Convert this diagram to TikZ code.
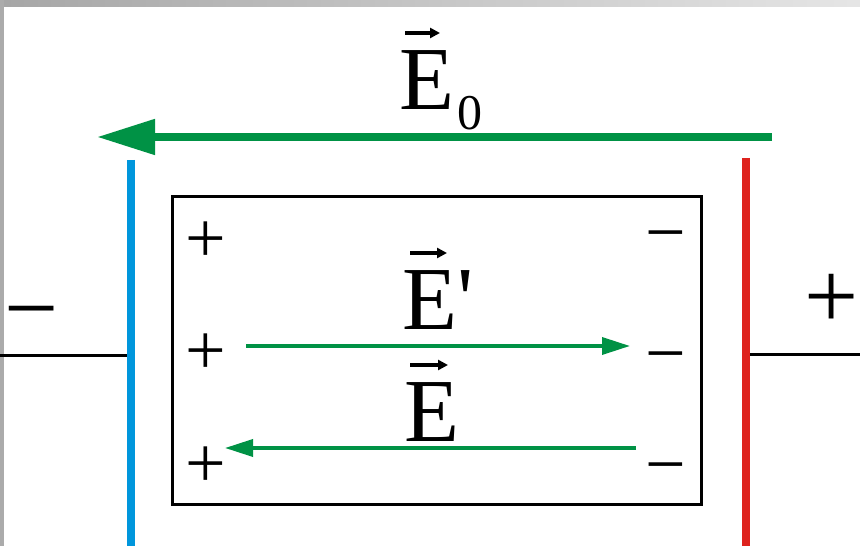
\documentclass[tikz,border=0pt]{standalone}
\usepackage{fontspec}
\setmainfont{Liberation Serif}[Ligatures=TeXOff]
\usetikzlibrary{arrows.meta}
\definecolor{vert}{RGB}{0,146,69}
\definecolor{bleu}{RGB}{0,150,220}
\definecolor{rouge}{RGB}{222,35,30}
\begin{document}
\begin{tikzpicture}[
    x=1pt, y=1pt,
    % Lettres et signes
    lettre/.style={font=\fontsize{90}{90}\selectfont, inner sep=0pt, anchor=base west},
    indice/.style={font=\fontsize{50}{50}\selectfont, inner sep=0pt, anchor=base west},
    signe/.style={font=\fontsize{72}{72}\selectfont, inner sep=0pt, anchor=base, yshift=-18pt},
    grandsigne/.style={font=\fontsize{96}{96}\selectfont, inner sep=0pt, anchor=base, yshift=-24pt},
    % Traits
    armature/.style={line width=8pt},
    fil/.style={line width=3pt},
    champ/.style={vert, line width=8pt, -{Triangle[length=58pt,width=34pt]}},
    petitchamp/.style={vert, line width=3.5pt, -{Triangle[length=28pt,width=17pt]}},
    fleche/.style={line width=3.5pt, -{Triangle[length=10pt,width=10pt]}}
]
\useasboundingbox (0,0) rectangle (860,546);
% Cadre gris
\shade[left color=black!35, right color=black!10] (0,539) rectangle (860,546);
\fill[black!33] (0,0) rectangle (4,546);

% Armatures
\coordinate (bleuH) at (131,386);
\coordinate (bleuB) at (131,0);
\coordinate (rougeH) at (746,388);
\coordinate (rougeB) at (746,0);
\draw[armature, bleu] (bleuH) -- (bleuB);
\draw[armature, rouge] (rougeH) -- (rougeB);

% Fils
\coordinate (filG) at (0,190);
\coordinate (filD) at (860,191);
\draw[fil] (filG) -- ([xshift=-4pt]filG -| bleuH);
\draw[fil] (filD) -- ([xshift=4pt]filD -| rougeH);
\node[grandsigne] (moinsG) at (32,229) {−};
\node[grandsigne] (plusD) at (832,241) {+};

% Champ E0
\coordinate (e0dep) at (772,409);
\coordinate (e0fin) at (97,409);
\draw[champ] (e0dep) -- (e0fin);
\node[lettre] (e0) at (399,436) {E};
\node[indice] (e0i) at ([xshift=3pt,yshift=-20pt]e0.base east) {0};
\draw[fleche] ([xshift=6pt,yshift=77pt]e0.base west) -- ++(35,0);

% Diélectrique
\node[draw, line width=3pt, minimum width=529pt, minimum height=308pt, inner sep=0pt]
    (dielec) at (436.5,195) {};
\foreach \yp/\ym [count=\i] in {301/307,189/186,76/75} {
    \node[signe] (plus\i) at (206,\yp) {+};
    \node[signe] (moins\i) at (666,\ym) {−};
}

% Champ E'
\coordinate (epdep) at (246,200);
\coordinate (epfin) at (630,200);
\draw[petitchamp] (epdep) -- (epfin);
\node[lettre] (ep) at (402,216) {E'};
\draw[fleche] ([xshift=8pt,yshift=77pt]ep.base west) -- ++(37,0);

% Champ E
\coordinate (edep) at (636,98);
\coordinate (efin) at (225,98);
\draw[petitchamp] (edep) -- (efin);
\node[lettre] (e) at (404,104) {E};
\draw[fleche] ([xshift=6pt,yshift=77pt]e.base west) -- ++(38,0);
\end{tikzpicture}
\end{document}
